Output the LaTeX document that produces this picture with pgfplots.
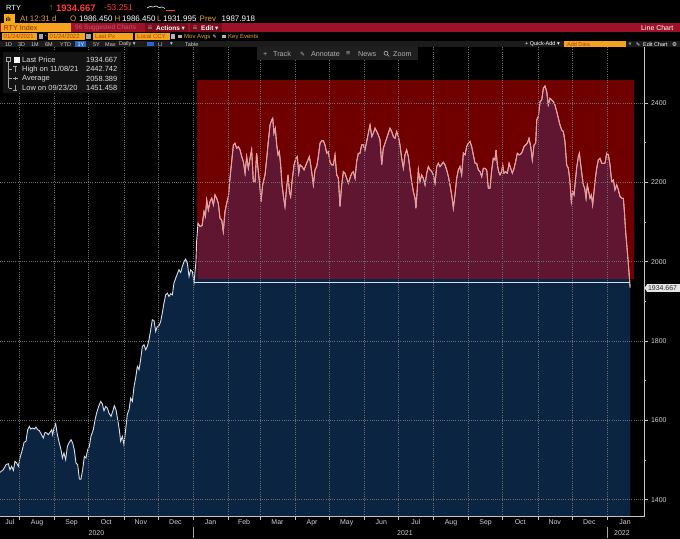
\documentclass[border=0pt]{standalone}
\usepackage{fontspec}
\setmainfont{Liberation Sans}
\newfontfamily\dejavu{DejaVu Sans}
\usepackage{pgfplots}
\pgfplotsset{compat=1.18}
\usepackage{pgfplotstable}

\definecolor{navy}{HTML}{0B2442}
\definecolor{boxred}{HTML}{700000}
\definecolor{maroonc}{HTML}{601631}
\definecolor{pinkline}{HTML}{EC9A9A}
\definecolor{whiteline}{HTML}{D8DEE6}
\definecolor{gridgray}{HTML}{6E6E6E}
\definecolor{axisgray}{HTML}{C4C4C4}
\definecolor{labgray}{HTML}{D0D0D0}
\definecolor{redbar}{HTML}{9E1229}
\definecolor{btnred}{HTML}{7A0B1D}
\definecolor{amber}{HTML}{F5A21E}
\definecolor{ambertext}{HTML}{A84800}
\definecolor{pricered}{HTML}{FF3B3B}
\definecolor{upgreen}{HTML}{22C022}
\definecolor{lblorange}{HTML}{E8A030}
\definecolor{barg}{HTML}{1B1B1B}
\definecolor{tbg}{HTML}{1F1F1F}
\definecolor{hiblue}{HTML}{2A66C8}
\definecolor{legbg}{HTML}{131313}

\newcommand{\dn}{{\dejavu ▾}}

\pgfplotstableread{
day value
-170.2 1468.8
-167.3 1475.5
-164.9 1488.1
-162.9 1490.6
-161.4 1475.5
-159.9 1483.9
-158.4 1473.8
-157.0 1496.5
-155.5 1492.3
-154.0 1483.9
-152.6 1504.9
-150.5 1525.9
-149.0 1544.4
-147.3 1546.9
-145.8 1576.3
-144.3 1584.7
-143.2 1578.0
-141.4 1580.5
-139.9 1578.0
-138.5 1583.0
-137.0 1576.3
-135.5 1573.8
-134.0 1566.2
-132.0 1555.3
-130.5 1569.6
-129.0 1567.9
-127.6 1563.7
-126.1 1569.6
-124.6 1576.3
-123.8 1563.7
-122.6 1580.5
-121.1 1591.4
-119.6 1563.7
-117.9 1542.7
-116.4 1525.9
-115.2 1504.9
-113.8 1517.5
-112.3 1500.7
-110.8 1534.3
-109.4 1542.7
-107.6 1551.1
-106.1 1542.7
-104.7 1525.9
-103.2 1492.3
-101.7 1488.1
-100.2 1452.0
-98.8 1451.5
-97.3 1475.5
-95.8 1509.1
-94.4 1504.9
-92.9 1525.9
-91.4 1534.3
-90.0 1559.5
-87.9 1576.3
-86.4 1601.5
-85.0 1618.2
-83.2 1635.0
-81.4 1647.6
-80.0 1641.8
-78.5 1624.1
-77.0 1635.0
-75.5 1630.8
-74.1 1618.2
-72.3 1609.9
-70.8 1622.4
-69.4 1636.7
-67.9 1626.6
-66.4 1601.5
-65.0 1576.3
-63.8 1546.9
-62.3 1559.5
-60.9 1538.5
-59.4 1576.3
-57.9 1615.7
-56.4 1626.6
-55.0 1656.0
-53.5 1647.6
-52.0 1685.4
-50.6 1706.4
-49.1 1735.8
-47.6 1727.4
-46.2 1752.6
-44.7 1786.2
-43.2 1790.4
-41.7 1777.8
-40.3 1786.2
-38.8 1803.0
-37.3 1828.2
-35.9 1853.4
-34.4 1851.7
-32.9 1824.0
-31.5 1836.6
-30.0 1838.3
-28.5 1849.2
-27.1 1870.2
-25.6 1895.4
-24.1 1916.3
-22.6 1920.5
-21.2 1912.1
-19.7 1918.9
-18.2 1916.3
-16.8 1945.7
-15.3 1958.3
-13.8 1969.2
-12.4 1979.3
-10.9 1972.6
-9.4 1987.7
-7.9 2000.3
-6.5 2006.2
-5.0 1996.1
-3.5 1962.5
-2.1 1979.3
-0.6 1975.1
0.9 1947.5
2.6 2000.3
3.2 2050.7
4.4 2096.8
6.2 2088.4
8.0 2091.0
9.7 2126.2
10.9 2113.6
12.1 2155.6
13.5 2130.4
15.0 2151.4
16.5 2159.8
18.0 2143.0
19.4 2168.2
20.9 2159.8
22.3 2147.2
23.8 2109.4
25.3 2105.2
26.7 2075.9
28.2 2126.2
29.7 2147.2
31.2 2164.0
32.6 2210.2
34.1 2252.2
35.6 2294.2
37.0 2298.4
38.5 2285.8
40.0 2290.0
41.5 2281.6
42.9 2264.8
44.4 2252.2
45.9 2222.8
47.3 2264.8
48.8 2235.4
50.3 2260.6
51.7 2281.6
53.2 2201.8
54.7 2201.8
56.1 2273.2
57.6 2227.0
59.1 2185.0
60.0 2151.4
61.4 2193.4
63.5 2218.6
65.0 2260.6
66.4 2302.6
67.9 2344.5
69.4 2357.1
70.3 2361.3
71.4 2323.6
72.6 2336.2
73.8 2294.2
75.0 2269.0
76.1 2277.4
77.3 2243.8
78.5 2193.4
80.0 2159.8
81.1 2138.8
82.6 2189.2
83.8 2218.6
85.0 2176.6
86.1 2164.0
87.3 2201.8
89.1 2243.8
90.8 2260.6
92.0 2264.8
93.2 2222.8
94.4 2243.8
96.1 2239.6
97.9 2231.2
99.6 2243.8
101.4 2256.4
102.6 2264.8
103.8 2243.8
105.0 2218.6
106.1 2193.4
107.6 2231.2
109.1 2239.6
110.5 2264.8
112.0 2298.4
113.5 2304.2
115.0 2304.2
116.4 2294.2
117.9 2273.2
119.3 2277.4
120.8 2252.2
122.3 2243.8
123.8 2243.8
125.2 2269.0
126.7 2218.6
128.2 2210.2
129.6 2138.8
131.1 2193.4
132.6 2227.0
134.0 2222.8
135.5 2210.2
137.0 2197.6
138.4 2210.2
139.9 2222.8
141.4 2227.0
142.9 2210.2
144.3 2252.2
145.8 2273.2
147.3 2273.2
148.7 2294.2
150.2 2294.2
151.7 2281.6
153.1 2302.6
154.6 2323.6
156.1 2344.5
157.6 2315.2
159.0 2323.6
160.5 2336.2
162.0 2327.8
163.4 2319.4
164.9 2306.8
166.4 2243.8
167.8 2285.8
169.3 2298.4
170.8 2311.0
172.2 2323.6
173.7 2336.2
175.2 2327.8
176.7 2315.2
178.1 2311.0
179.6 2327.8
181.1 2315.2
182.5 2294.2
184.0 2260.6
185.5 2235.4
186.9 2269.0
188.4 2281.6
189.9 2264.8
191.4 2231.2
192.8 2201.8
194.3 2176.6
195.8 2159.8
196.6 2134.6
197.8 2185.0
198.7 2231.2
200.2 2201.8
201.6 2218.6
203.1 2210.2
204.6 2193.4
206.1 2222.8
207.5 2239.6
209.0 2231.2
210.5 2227.0
211.9 2218.6
213.4 2197.6
214.9 2239.6
216.3 2248.0
217.8 2239.6
219.3 2245.5
220.7 2250.5
222.2 2243.8
223.7 2231.2
225.2 2214.4
226.6 2193.4
228.1 2168.2
229.6 2134.6
231.0 2168.2
232.5 2210.2
234.0 2231.2
235.4 2239.6
236.9 2218.6
238.4 2273.2
239.9 2269.0
241.3 2290.0
242.8 2298.4
244.3 2302.6
245.7 2290.0
247.2 2269.0
248.7 2248.0
250.1 2248.0
251.6 2231.2
253.1 2227.0
254.6 2214.4
256.0 2235.4
257.5 2235.4
259.0 2231.2
260.4 2185.0
261.9 2185.0
263.4 2231.2
264.8 2260.6
266.3 2256.4
267.2 2281.6
268.4 2243.8
269.5 2227.0
270.7 2218.6
272.2 2227.0
273.1 2243.8
274.2 2222.8
275.7 2227.0
277.2 2222.8
278.7 2248.0
280.1 2235.4
281.6 2222.8
283.1 2235.4
284.5 2252.2
286.0 2273.2
287.5 2269.0
288.9 2270.7
290.4 2277.4
291.9 2290.0
293.4 2294.2
294.8 2298.4
296.3 2311.0
297.8 2290.0
299.2 2256.4
300.7 2294.2
302.2 2298.4
303.1 2357.1
304.5 2365.5
306.0 2403.3
307.5 2407.5
308.9 2436.9
310.4 2442.7
311.9 2428.5
313.3 2394.9
314.8 2411.7
316.3 2407.5
317.8 2403.3
319.2 2394.9
320.7 2378.1
322.2 2361.3
323.6 2344.5
325.1 2332.0
326.6 2327.8
328.0 2302.6
329.5 2243.8
331.0 2235.4
332.4 2201.8
333.6 2151.4
334.8 2176.6
336.0 2168.2
337.1 2201.8
338.3 2235.4
339.8 2264.8
340.7 2273.2
341.9 2243.8
343.0 2218.6
344.2 2193.4
345.4 2185.0
346.6 2159.8
347.7 2193.4
348.9 2176.6
350.1 2159.8
351.3 2168.2
352.4 2143.0
353.6 2176.6
354.8 2210.2
356.0 2235.4
357.4 2256.4
358.9 2260.6
360.4 2248.0
361.8 2248.0
363.3 2248.0
364.8 2273.2
366.3 2269.0
367.7 2243.8
369.2 2201.8
370.7 2206.0
372.1 2180.8
373.6 2193.4
375.1 2180.8
376.5 2164.0
378.0 2159.8
379.5 2159.8
380.4 2126.2
381.5 2075.9
383.0 2025.5
384.2 1983.5
385.4 1934.7
}\rty

\begin{document}
\begin{tikzpicture}
\fill[black] (0,0) rectangle (680bp,539bp);
\useasboundingbox (0,0) rectangle (680bp,539bp);
\begin{axis}[
  at={(0bp,22.3bp)}, anchor=south west, scale only axis,
  width=644bp, height=469.7bp,
  xmin=-170.2, xmax=397.7, ymin=1357, ymax=2541,
  axis x line*=bottom, axis y line*=right,
  axis line style={draw=axisgray, line width=0.6bp, -},
  tick style={draw=axisgray, line width=0.5bp},
  tick align=outside,
  major tick length=3.5bp, minor tick length=2bp,
  xtick={-153,-122,-92,-61,-31,0,31,59,90,120,151,181,212,243,273,304,334,365},
  xticklabels={},
  extra x ticks={-161.5,-137.5,-107,-76.5,-46,-15.5,15.5,45,74.5,105,135.5,166,196.5,227.5,258,288.5,319,349.5,381},
  extra x tick labels={Jul,Aug,Sep,Oct,Nov,Dec,Jan,Feb,Mar,Apr,May,Jun,Jul,Aug,Sep,Oct,Nov,Dec,Jan},
  extra x tick style={major tick length=0pt, grid=none},
  ytick={1400,1600,...,2400},
  minor ytick={1500,1700,...,2300},
  xmajorgrids, ymajorgrids,
  grid style={draw=gridgray, line width=0.5bp, dash pattern=on 0.8bp off 1.4bp},
  tick label style={text=labgray, font=\fontsize{7}{8}\selectfont},
  xticklabel style={inner sep=0pt, yshift=-3bp},
  yticklabel style={/pgf/number format/1000 sep={}, /pgf/number format/assume math mode=true},
  axis on top,
]
% area under the price
\addplot[fill=navy, draw=none] table[x=day, y=value] {\rty} \closedcycle;
% highlighted 2021 box
\addplot[fill=boxred, draw=none] coordinates {(3.8,1955.6) (388.9,1955.6) (388.9,2458) (3.8,2458)};
% area under the price inside the box
\addplot[fill=maroonc, draw=none, restrict x to domain=3.8:388.9] table[x=day, y=value] {\rty} \closedcycle;
\addplot[fill=navy, draw=none] coordinates {(3.8,1300) (385.4,1300) (385.4,1955.6) (3.8,1955.6)};
% price line
\addplot[draw=whiteline, line width=0.9bp] table[x=day, y=value] {\rty};
\addplot[draw=pinkline, line width=0.9bp, restrict x to domain=3.8:388.9] table[x=day, y=value] {\rty};
% start-of-year level line
\addplot[draw=whiteline, line width=0.8bp] coordinates {(0.9,1947) (385.4,1947)};
\end{axis}

\begin{scope}[x=1bp,y=-1bp,shift={(0,539bp)}]
\tikzset{every node/.style={inner sep=0pt, anchor=west}}
% row 1
\node[text=white, font=\fontsize{7.5}{8}\selectfont] at (6,8) {RTY};
\node[text=upgreen, font=\fontsize{9}{9}\selectfont\bfseries] at (49,8) {↑};
\node[text=pricered, font=\fontsize{9.5}{10}\selectfont\bfseries] at (56,8) {1934.667};
\node[text=pricered, font=\fontsize{8.5}{9}\selectfont] at (104,8) {-53.251};
\draw[white, line width=0.6bp] (147,8) -- (150,6.5) -- (153,7) -- (156,6) -- (159,7.5) -- (162,7) -- (165,8.5);
\draw[pricered, line width=0.8bp] (166,10.5) -- (175,10.5);
% row 2
\fill[amber!90!yellow] (4,14) rectangle (15,24);
\node[text=black, font=\fontsize{6}{6}\selectfont\bfseries] at (5.6,19.2) {ılı};
\node[text=lblorange, font=\fontsize{8}{9}\selectfont] at (20,19) {At 12:31 d};
\node[text=lblorange, font=\fontsize{8}{9}\selectfont] at (70,19) {O};
\node[text=white, font=\fontsize{8}{9}\selectfont] at (79,19) {1986.450};
\node[text=lblorange, font=\fontsize{8}{9}\selectfont] at (114.5,19) {H};
\node[text=white, font=\fontsize{8}{9}\selectfont] at (122,19) {1986.450};
\node[text=lblorange, font=\fontsize{8}{9}\selectfont] at (157,19) {L};
\node[text=white, font=\fontsize{8}{9}\selectfont] at (163,19) {1931.995};
\node[text=lblorange, font=\fontsize{8}{9}\selectfont] at (199.5,19) {Prev};
\node[text=white, font=\fontsize{8}{9}\selectfont] at (221.5,19) {1987.918};
% row 3
\fill[redbar] (0,23) rectangle (680,32);
\fill[amber] (1,23.5) rectangle (71,31.7);
\node[text=ambertext!80!black, font=\fontsize{7.2}{8}\selectfont] at (3.5,27.8) {RTY Index};
\node[text=redbar!70!white, font=\fontsize{6.5}{7}\selectfont] at (75,27.8) {96 Suggested Charts};
\fill[btnred] (145,23.5) rectangle (188,31.7);
\node[text=white, font=\fontsize{4.5}{5}\dejavu] at (148,27.8) {☷};
\node[text=white, font=\fontsize{6.5}{7}\selectfont\bfseries] at (156,27.8) {Actions \dn};
\fill[btnred] (190,23.5) rectangle (222,31.7);
\node[text=white, font=\fontsize{4.5}{5}\dejavu] at (193,27.8) {☷};
\node[text=white, font=\fontsize{6.5}{7}\selectfont\bfseries] at (201,27.8) {Edit \dn};
\node[text=white, font=\fontsize{7}{8}\selectfont] at (641,27.8) {Line Chart};
% row 4
\fill[amber] (2,33.5) rectangle (37,39.7);
\node[text=ambertext, font=\fontsize{6}{6}\selectfont] at (3.5,36.7) {01/24/2021};
\fill[gray!70] (38.5,34.2) rectangle (43,39);
\node[text=white, font=\fontsize{6}{6}\selectfont] at (44.6,36.5) {-};
\fill[amber] (48,33.5) rectangle (85,39.7);
\node[text=ambertext, font=\fontsize{6}{6}\selectfont] at (49.5,36.7) {01/24/2022};
\fill[gray!70] (86,34.2) rectangle (90.5,39);
\fill[amber] (93,33.5) rectangle (133,39.7);
\node[text=ambertext, font=\fontsize{6}{6}\selectfont] at (95,36.7) {Last Px};
\fill[amber] (135,33.5) rectangle (170,39.7);
\node[text=ambertext, font=\fontsize{6}{6}\selectfont] at (137,36.7) {Local CCY};
\fill[gray!60] (171,34.2) rectangle (175,39);
\fill[gray!60] (178,35) rectangle (181.5,38.5);
\node[text=lblorange, font=\fontsize{6}{6}\selectfont] at (184,36.7) {Mov Avgs};
\node[text=white, font=\fontsize{5}{5}\dejavu] at (212.5,36.7) {✎};
\fill[gray!60] (222,35) rectangle (225.5,38.5);
\node[text=lblorange, font=\fontsize{6}{6}\selectfont] at (228,36.7) {Key Events};
% row 5
\fill[barg] (0,41) rectangle (680,47.5);
\node[text=labgray, font=\fontsize{5.5}{6}\selectfont] at (5,44.3) {1D};
\node[text=labgray, font=\fontsize{5.5}{6}\selectfont] at (18,44.3) {3D};
\node[text=labgray, font=\fontsize{5.5}{6}\selectfont] at (31,44.3) {1M};
\node[text=labgray, font=\fontsize{5.5}{6}\selectfont] at (45,44.3) {6M};
\node[text=labgray, font=\fontsize{5.5}{6}\selectfont] at (60,44.3) {YTD};
\fill[hiblue] (75,41.5) rectangle (86,47);
\node[text=white, font=\fontsize{5.5}{6}\selectfont] at (77.5,44.3) {1Y};
\node[text=labgray, font=\fontsize{5.5}{6}\selectfont] at (93,44.3) {5Y};
\node[text=labgray, font=\fontsize{5.5}{6}\selectfont] at (105,44.3) {Max};
\node[text=labgray, font=\fontsize{5.5}{6}\selectfont] at (119,44.3) {Daily \dn};
\fill[hiblue] (147,42) rectangle (153.5,46.5);
\node[text=labgray, font=\fontsize{5.5}{6}\selectfont] at (158,44.3) {LI};
\node[text=labgray, font=\fontsize{5.5}{6}\selectfont] at (170,44.3) {\dn};
\node[text=labgray, font=\fontsize{5.5}{6}\selectfont] at (185,44.3) {Table};
\node[text=white, font=\fontsize{5.5}{6}\selectfont] at (525,44.3) {+ Quick-Add \dn};
\fill[amber] (564,41.5) rectangle (626,47);
\node[text=ambertext, font=\fontsize{5.5}{6}\selectfont] at (567,44.3) {Add Data};
\node[text=white, font=\fontsize{5.5}{6}\selectfont] at (628.5,44.3) {«};
\node[text=white, font=\fontsize{5}{5}\dejavu] at (636,44.3) {✎};
\node[text=white, font=\fontsize{5.5}{6}\selectfont] at (643,44.3) {Edit Chart};
\node[text=white, font=\fontsize{5.5}{6}\dejavu] at (672,44.3) {⚙};
% row 6 toolbar
\fill[tbg] (257,47.5) rectangle (418,60.5);
\node[text=labgray!85!black, font=\fontsize{7.2}{8}\selectfont] at (263,54) {+};
\node[text=labgray!85!black, font=\fontsize{7.2}{8}\selectfont] at (273,54) {Track};
\node[text=labgray!85!black, font=\fontsize{6}{7}\dejavu] at (300,54) {✎};
\node[text=labgray!85!black, font=\fontsize{7.2}{8}\selectfont] at (311,54) {Annotate};
\node[text=labgray!85!black, font=\fontsize{7.2}{8}\selectfont] at (346,54) {≡};
\node[text=labgray!85!black, font=\fontsize{7.2}{8}\selectfont] at (358,54) {News};
\draw[labgray!85!black, line width=0.6bp] (386,53.2) circle (2) (387.4,54.6) -- (389.3,56.5);
\node[text=labgray!85!black, font=\fontsize{7.2}{8}\selectfont] at (393,54) {Zoom};
% legend box
\fill[legbg] (3,52) rectangle (121,93);
\draw[gray!70, line width=0.5bp] (6.5,57.5) rectangle (10.5,61.5);
\draw[gray!70, line width=0.5bp] (8.5,61.5) -- (8.5,88) (8.5,69.3) -- (12,69.3) (8.5,78.6) -- (12,78.6) (8.5,88) -- (12,88);
\draw[gray!70, line width=0.5bp] (13,66) -- (17,66) (15,66) -- (15,72);
\draw[gray!70, line width=0.5bp] (12.5,78.6) -- (17.5,78.6) (15,77) -- (15,80.2);
\draw[gray!70, line width=0.5bp] (15,85) -- (15,90.5) (13,90.5) -- (17,90.5);
\fill[white] (13.5,57) rectangle (19.5,63);
\node[text=white!88!black, font=\fontsize{7.5}{8}\selectfont] at (22,60) {Last Price};
\node[text=white!88!black, font=\fontsize{7.5}{8}\selectfont, anchor=east] at (117.5,60) {1934.667};
\node[text=white!88!black, font=\fontsize{7.5}{8}\selectfont] at (22,69.3) {High on 11/08/21};
\node[text=white!88!black, font=\fontsize{7.5}{8}\selectfont, anchor=east] at (117.5,69.3) {2442.742};
\node[text=white!88!black, font=\fontsize{7.5}{8}\selectfont] at (22,78.6) {Average};
\node[text=white!88!black, font=\fontsize{7.5}{8}\selectfont, anchor=east] at (117.5,78.6) {2058.389};
\node[text=white!88!black, font=\fontsize{7.5}{8}\selectfont] at (22,87.9) {Low on 09/23/20};
\node[text=white!88!black, font=\fontsize{7.5}{8}\selectfont, anchor=east] at (117.5,87.9) {1451.458};
% last price tag
\fill[white!90!black] (644.5,288) -- (647,284.2) -- (680,284.2) -- (680,291.8) -- (647,291.8) -- cycle;
\node[text=black!85, font=\fontsize{7}{7}\selectfont] at (647.8,288.1) {1934.667};
% years
\node[text=labgray, font=\fontsize{7}{8}\selectfont, anchor=center] at (96.5,533.5) {2020};
\node[text=labgray, font=\fontsize{7}{8}\selectfont, anchor=center] at (405,533.5) {2021};
\node[text=labgray, font=\fontsize{7}{8}\selectfont, anchor=center] at (622,533.5) {2022};
\draw[gray!70, line width=0.6bp] (193,527) -- (193,538) (607,527) -- (607,538);
\end{scope}
\end{tikzpicture}
\end{document}
